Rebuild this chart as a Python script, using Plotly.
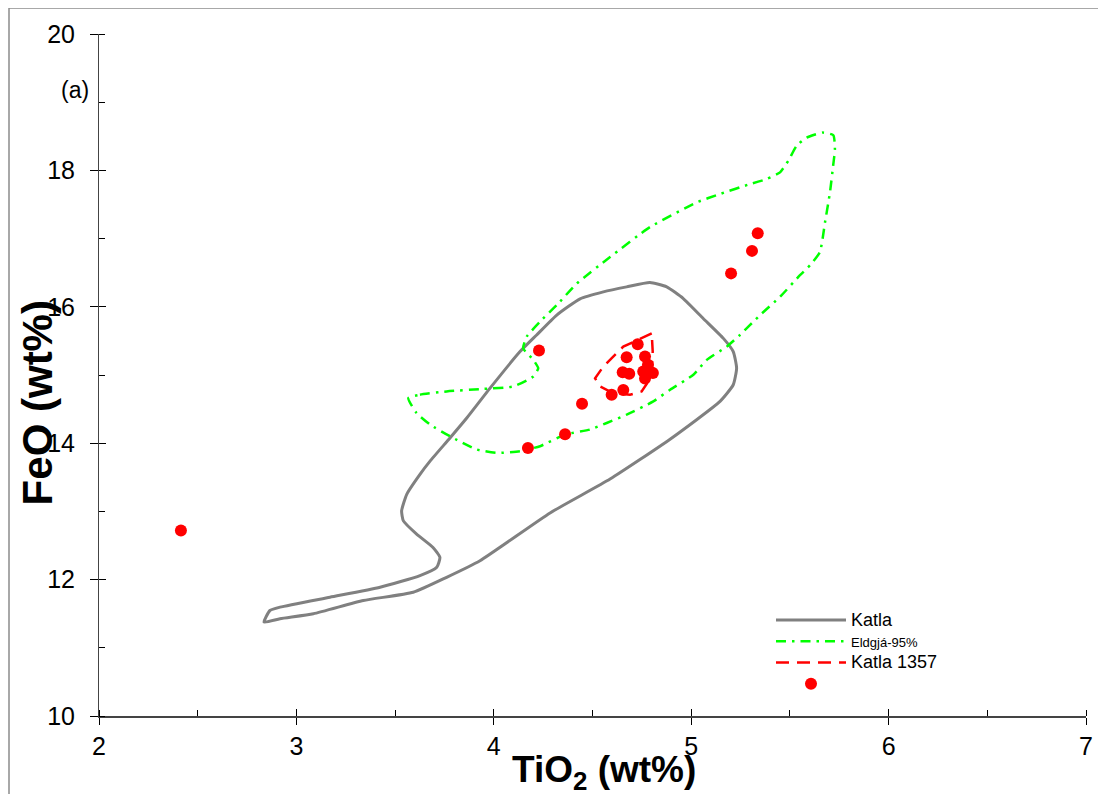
import plotly.graph_objects as go

# ---- data (TiO2, FeO wt%) ----
katla_tio2 = [2.836, 2.866, 2.917, 3.170, 3.424, 3.626, 3.711, 3.727, 3.692, 3.609, 3.542, 3.533,
              3.559, 3.626, 3.677, 3.778, 3.863, 3.981, 4.133, 4.217, 4.319, 4.437, 4.555, 4.673,
              4.791, 4.876, 4.960, 5.061, 5.163, 5.213, 5.230, 5.213, 5.146, 4.893, 4.589, 4.285,
              3.930, 3.761, 3.592, 3.339, 3.086, 2.917, 2.836]
katla_feo = [11.377, 11.547, 11.596, 11.742, 11.888, 12.058, 12.180, 12.326, 12.472, 12.667, 12.861, 13.007,
             13.251, 13.543, 13.737, 14.077, 14.369, 14.807, 15.343, 15.587, 15.879, 16.117, 16.219, 16.292,
             16.355, 16.292, 16.121, 15.829, 15.537, 15.343, 15.099, 14.857, 14.613, 14.058, 13.474, 12.978,
             12.277, 12.034, 11.815, 11.693, 11.499, 11.426, 11.377]

eldgja_tio2 = [3.567, 3.626, 3.761, 3.930, 4.099, 4.200, 4.225, 4.200, 4.149, 4.167, 4.234, 4.319,
               4.420, 4.589, 4.791, 5.030, 5.146, 5.298, 5.382, 5.450, 5.492, 5.534, 5.585, 5.666,
               5.720, 5.728, 5.720, 5.703, 5.678, 5.652, 5.602, 5.551, 5.450, 5.349, 5.247, 5.180,
               5.079, 5.011, 4.893, 4.808, 4.673, 4.572, 4.487, 4.361, 4.234, 4.133, 4.015, 3.913,
               3.778, 3.677, 3.609, 3.567]
eldgja_feo = [14.661, 14.711, 14.759, 14.793, 14.832, 14.978, 15.099, 15.222, 15.391, 15.562, 15.781, 16.025,
              16.340, 16.730, 17.168, 17.533, 17.654, 17.800, 17.873, 17.971, 18.142, 18.361, 18.482, 18.555,
              18.515, 18.311, 18.092, 17.679, 17.241, 16.803, 16.609, 16.463, 16.146, 15.879, 15.587, 15.416,
              15.222, 15.003, 14.784, 14.613, 14.419, 14.296, 14.200, 14.127, 13.956, 13.883, 13.858, 13.908,
              14.102, 14.273, 14.442, 14.661]

k1357_tio2 = [4.800, 4.715, 4.656, 4.605, 4.555, 4.513, 4.538, 4.605, 4.690, 4.749, 4.776, 4.801, 4.805, 4.800]
k1357_feo = [15.610, 15.489, 15.416, 15.270, 15.124, 14.953, 14.832, 14.734, 14.711, 14.759, 14.876, 15.124, 15.343, 15.610]

sample_tio2 = [2.415, 4.229, 4.173, 4.361, 4.447, 4.597, 4.656, 4.653, 4.686, 4.673, 4.729, 4.766,
               4.781, 4.757, 4.790, 4.806, 4.766, 5.202, 5.308, 5.337]
sample_feo = [12.72, 15.36, 13.93, 14.13, 14.58, 14.71, 14.78, 15.04, 15.02, 15.26, 15.45, 15.27,
              15.15, 15.05, 15.05, 15.03, 14.95, 16.49, 16.82, 17.08]

x_ticks = [2, 3, 4, 5, 6, 7]
y_ticks = [10, 12, 14, 16, 18, 20]

W, H = 1106, 794
OFF = 8  # page offset of the figure in the screenshot
L, T = 91, 23
PW, PH = 987, 685
R, B = W - L - PW, H - T - PH
FONT = "Liberation Sans, Arial, sans-serif"


def px_x(p):
    return (p - OFF - L) / PW


def px_y(p):
    return (H - B - (p - OFF)) / PH


fig = go.Figure()
fig.add_trace(go.Scatter(x=katla_tio2, y=katla_feo, mode="lines",
                         name="<span style='font-size:18px'>Katla</span>",
                         line=dict(color="#808080", width=3, shape="spline", smoothing=0.5)))
fig.add_trace(go.Scatter(x=eldgja_tio2, y=eldgja_feo, mode="lines",
                         name="<span style='font-size:13px'>Eldgjá-95%</span>",
                         line=dict(color="#00ff00", width=2.5, dash="10px,6px,2.5px,6px",
                                   shape="spline", smoothing=0.5)))
fig.add_trace(go.Scatter(x=k1357_tio2, y=k1357_feo, mode="lines",
                         name="<span style='font-size:18px'>Katla 1357</span>",
                         line=dict(color="#ff0000", width=2.5, dash="13px,8px")))
fig.add_trace(go.Scatter(x=sample_tio2, y=sample_feo, mode="markers", name=" ",
                         marker=dict(color="#ff0000", size=12, line=dict(width=0))))
# helper trace for overlay axes (inner half of crossing major ticks)
fig.add_trace(go.Scatter(x=[None], y=[None], xaxis="x2", yaxis="y2", showlegend=False, hoverinfo="skip"))

tickfont = dict(family=FONT, size=25, color="black")
fig.update_layout(
    width=W, height=H,
    margin=dict(l=L, r=R, t=T, b=B),
    paper_bgcolor="white", plot_bgcolor="white",
    showlegend=True,
    xaxis=dict(range=[2, 7], tickvals=x_ticks, showgrid=False, zeroline=False,
               showline=True, linecolor="#444444", linewidth=1.5,
               ticks="outside", ticklen=7, tickwidth=1, tickcolor="black",
               minor=dict(ticks="inside", dtick=0.5, ticklen=6, tickwidth=1, tickcolor="black", showgrid=False),
               tickfont=tickfont, ticklabelstandoff=0),
    yaxis=dict(range=[10, 20], tickvals=y_ticks, showgrid=False, zeroline=False,
               showline=True, linecolor="#444444", linewidth=1,
               ticks="outside", ticklen=8, tickwidth=1, tickcolor="black",
               minor=dict(ticks="inside", dtick=1, ticklen=6, tickwidth=1, tickcolor="black", showgrid=False),
               tickfont=tickfont, ticklabelstandoff=10),
    xaxis2=dict(range=[2, 7], overlaying="x", anchor="y2", tickvals=x_ticks, showticklabels=False,
                ticks="inside", ticklen=7, tickwidth=1, tickcolor="black",
                showgrid=False, zeroline=False, showline=False),
    yaxis2=dict(range=[10, 20], overlaying="y", anchor="x2", tickvals=y_ticks, showticklabels=False,
                ticks="inside", ticklen=7, tickwidth=1, tickcolor="black",
                showgrid=False, zeroline=False, showline=False),
    legend=dict(x=px_x(771), y=px_y(604), xanchor="left", yanchor="top",
                bgcolor="rgba(0,0,0,0)", borderwidth=0, itemwidth=70,
                font=dict(family=FONT, size=14, color="black"), tracegroupgap=0),
    shapes=[dict(type="rect", xref="paper", yref="paper",
                 x0=px_x(9), x1=px_x(1120), y0=px_y(810), y1=px_y(5),
                 line=dict(color="#8c8c8c", width=1.5), fillcolor="rgba(0,0,0,0)", layer="below")],
    annotations=[
        dict(text="<b>TiO<sub>2</sub> (wt%)</b>", xref="paper", yref="paper",
             x=px_x(604), y=px_y(772), xanchor="center", yanchor="middle", showarrow=False,
             font=dict(family=FONT, size=37, color="black")),
        dict(text="<b>FeO (wt%)</b>", xref="paper", yref="paper", textangle=-90,
             x=px_x(37), y=px_y(402), xanchor="center", yanchor="middle", showarrow=False,
             font=dict(family=FONT, size=42, color="black")),
        dict(text="(a)", xref="paper", yref="paper",
             x=px_x(75), y=px_y(87), xanchor="center", yanchor="middle", showarrow=False,
             font=dict(family=FONT, size=23, color="black")),
    ],
)

fig.write_html("out.html")
